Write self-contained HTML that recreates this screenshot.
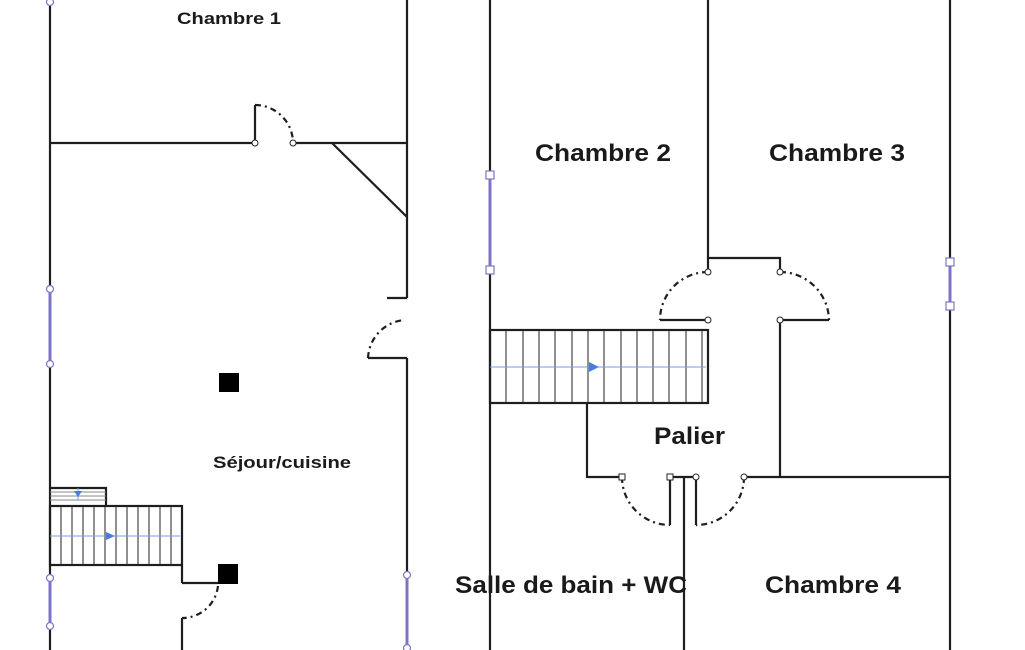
<!DOCTYPE html>
<html><head><meta charset="utf-8"><style>
html,body{margin:0;padding:0;background:#fff;}
svg{display:block;}
text{font-family:"Liberation Sans",sans-serif;font-weight:bold;fill:#1a1a1a;}
</style></head><body>
<svg width="1025" height="650" viewBox="0 0 1025 650" xmlns="http://www.w3.org/2000/svg">
<g stroke="#1e1e1e" stroke-width="2.2" fill="none">
<line x1="50" y1="0" x2="50" y2="650"/>
<line x1="407" y1="0" x2="407" y2="298"/>
<line x1="387" y1="298" x2="407" y2="298"/>
<line x1="407" y1="358" x2="407" y2="650"/>
<line x1="368" y1="358" x2="407" y2="358"/>
<path d="M368 358 A40 40 0 0 1 404 320" stroke-dasharray="6 4 2 4"/>
<line x1="50" y1="143" x2="255" y2="143"/>
<line x1="293" y1="143" x2="407" y2="143"/>
<line x1="255" y1="143" x2="255" y2="105"/>
<path d="M255 105 A38 38 0 0 1 293 143" stroke-dasharray="6 4 2 4"/>
<line x1="332" y1="143" x2="407" y2="217"/>
<rect x="50" y="506" width="132" height="59"/>
<polyline points="50,488 106,488 106,506"/>
<line x1="182" y1="565" x2="182" y2="583"/>
<line x1="182" y1="583" x2="218" y2="583"/>
<path d="M218 586 A36 36 0 0 1 182 618" stroke-dasharray="6 4 2 4"/>
<line x1="182" y1="618" x2="182" y2="650"/>
<line x1="490" y1="0" x2="490" y2="650"/>
<line x1="950" y1="0" x2="950" y2="650"/>
<polyline points="708,0 708,258 780,258 780,272"/>
<line x1="708" y1="258" x2="708" y2="272"/>
<line x1="660" y1="320" x2="708" y2="320"/>
<path d="M708 272 A48 48 0 0 0 660 320" stroke-dasharray="6 4 2 4"/>
<line x1="780" y1="320" x2="829" y2="320"/>
<path d="M780 272 A49 49 0 0 1 829 320" stroke-dasharray="6 4 2 4"/>
<line x1="780" y1="320" x2="780" y2="477"/>
<line x1="780" y1="477" x2="950" y2="477"/>
<line x1="744" y1="477" x2="780" y2="477"/>
<rect x="490" y="330" width="218" height="73"/>
<polyline points="587,403 587,477 622,477"/>
<line x1="670" y1="477" x2="696" y2="477"/>
<line x1="670" y1="477" x2="670" y2="525"/>
<line x1="696" y1="477" x2="696" y2="525"/>
<line x1="684" y1="477" x2="684" y2="650"/>
<path d="M622 477 A48 48 0 0 0 670 525" stroke-dasharray="6 4 2 4"/>
<path d="M744 477 A48 48 0 0 1 696 525" stroke-dasharray="6 4 2 4"/>
</g>
<g stroke="#222" stroke-width="1">
<line x1="61" y1="506" x2="61" y2="565"/><line x1="72" y1="506" x2="72" y2="565"/><line x1="83" y1="506" x2="83" y2="565"/><line x1="94" y1="506" x2="94" y2="565"/><line x1="105" y1="506" x2="105" y2="565"/><line x1="116" y1="506" x2="116" y2="565"/><line x1="127" y1="506" x2="127" y2="565"/><line x1="138" y1="506" x2="138" y2="565"/><line x1="149" y1="506" x2="149" y2="565"/><line x1="160" y1="506" x2="160" y2="565"/><line x1="171" y1="506" x2="171" y2="565"/>
<line x1="50" y1="492" x2="106" y2="492" stroke="#888"/><line x1="50" y1="496" x2="106" y2="496" stroke="#888"/><line x1="50" y1="500" x2="106" y2="500" stroke="#888"/>
<line x1="506" y1="330" x2="506" y2="403"/><line x1="523" y1="330" x2="523" y2="403"/><line x1="539" y1="330" x2="539" y2="403"/><line x1="555" y1="330" x2="555" y2="403"/><line x1="572" y1="330" x2="572" y2="403"/><line x1="588" y1="330" x2="588" y2="403"/><line x1="604" y1="330" x2="604" y2="403"/><line x1="621" y1="330" x2="621" y2="403"/><line x1="637" y1="330" x2="637" y2="403"/><line x1="653" y1="330" x2="653" y2="403"/><line x1="669" y1="330" x2="669" y2="403"/><line x1="686" y1="330" x2="686" y2="403"/><line x1="702" y1="330" x2="702" y2="403"/>
</g>
<g stroke="#7a9be8" stroke-width="1">
<line x1="50" y1="536" x2="180" y2="536"/>
<line x1="490" y1="367" x2="706" y2="367"/>
<line x1="78" y1="488" x2="78" y2="500"/>
</g>
<g fill="#4a7be0">
<polygon points="106,532 115,536 106,540"/>
<polygon points="589,362 599,367 589,372"/>
<polygon points="74,491 82,491 78,497"/>
</g>
<rect x="219" y="373" width="20" height="19" fill="#000"/>
<rect x="218" y="564" width="20" height="20" fill="#000"/>
<g stroke="#7b74c8" stroke-width="3">
<line x1="50" y1="289" x2="50" y2="364"/>
<line x1="50" y1="578" x2="50" y2="626"/>
<line x1="407" y1="575" x2="407" y2="650"/>
<line x1="490" y1="175" x2="490" y2="270"/>
<line x1="950" y1="262" x2="950" y2="306"/>
</g>
<g fill="#fff" stroke="#7b74c8" stroke-width="1.2">
<circle cx="50" cy="2" r="3.5"/>
<circle cx="50" cy="289" r="3.5"/><circle cx="50" cy="364" r="3.5"/>
<circle cx="50" cy="578" r="3.5"/><circle cx="50" cy="626" r="3.5"/>
<circle cx="407" cy="575" r="3.5"/><circle cx="407" cy="648" r="3.5"/>
<rect x="486" y="171" width="8" height="8"/><rect x="486" y="266" width="8" height="8"/>
<rect x="946" y="258" width="8" height="8"/><rect x="946" y="302" width="8" height="8"/>
</g>
<g fill="#fff" stroke="#222" stroke-width="1">
<circle cx="255" cy="143" r="3"/><circle cx="293" cy="143" r="3"/>
<circle cx="708" cy="272" r="3"/><circle cx="708" cy="320" r="3"/>
<circle cx="780" cy="272" r="3"/><circle cx="780" cy="320" r="3"/>
<rect x="619" y="474" width="6" height="6"/><rect x="667" y="474" width="6" height="6"/>
<circle cx="696" cy="477" r="3"/><circle cx="744" cy="477" r="3"/>
</g>
<text x="177" y="24" font-size="17" textLength="104" lengthAdjust="spacingAndGlyphs">Chambre 1</text>
<text x="213" y="468" font-size="17" textLength="138" lengthAdjust="spacingAndGlyphs">Séjour/cuisine</text>
<text x="535" y="161" font-size="24" textLength="136" lengthAdjust="spacingAndGlyphs">Chambre 2</text>
<text x="769" y="161" font-size="24" textLength="136" lengthAdjust="spacingAndGlyphs">Chambre 3</text>
<text x="654" y="444" font-size="24" textLength="71" lengthAdjust="spacingAndGlyphs">Palier</text>
<text x="455" y="593" font-size="24" textLength="232" lengthAdjust="spacingAndGlyphs">Salle de bain + WC</text>
<text x="765" y="593" font-size="24" textLength="136" lengthAdjust="spacingAndGlyphs">Chambre 4</text>
</svg>
</body></html>
